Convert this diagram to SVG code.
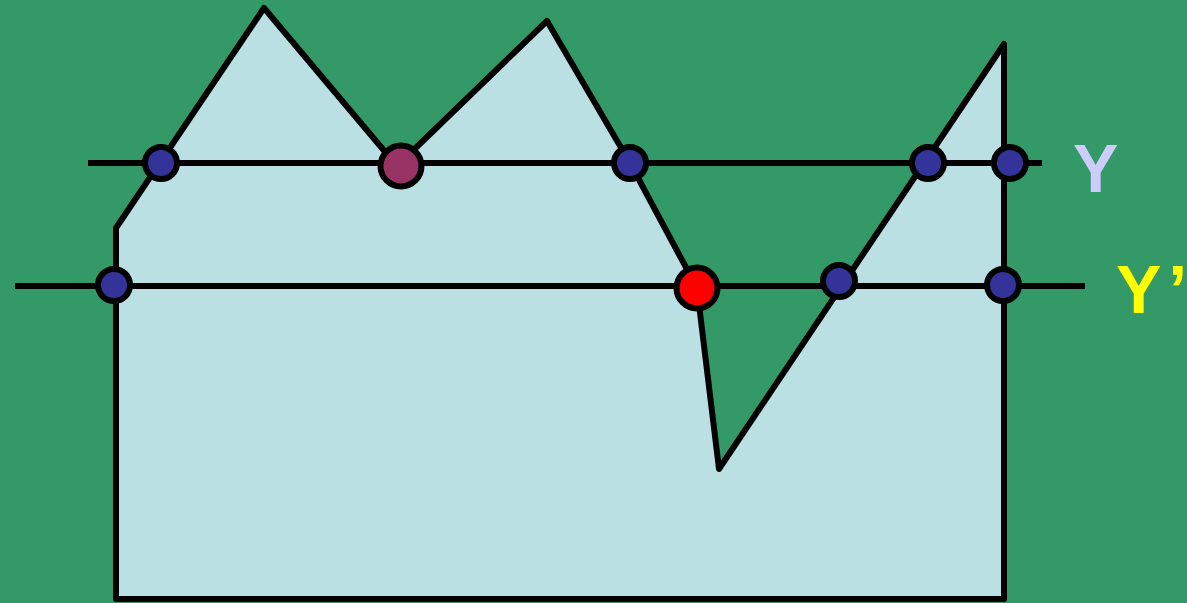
<svg xmlns="http://www.w3.org/2000/svg" width="1187" height="603" viewBox="0 0 1187 603">
<style>
.ln{stroke:#000;stroke-width:6;fill:#BBE0E3;stroke-linejoin:round;stroke-linecap:round}
.hl{stroke:#000;stroke-width:6;fill:none}
.dot{stroke:#000;stroke-width:6}
.b{fill:#333399}
.lbl{font-family:"Liberation Sans",Arial,sans-serif;font-weight:bold;font-size:68px}
</style>
<rect width="1187" height="603" fill="#339966"/>
<g id="shape">
<polygon class="ln" points="116,599 116,228 264,8 397,166 547,21 630,163 697,288 719,469 1004,44 1004,599"/>
</g>
<g id="connectors">
<line class="hl" x1="88" y1="163" x2="1042" y2="163"/>
<line class="hl" x1="15" y1="286" x2="1085" y2="286"/>
</g>
<g id="dots">
<circle class="dot b" cx="161" cy="163" r="16"/>
<circle class="dot b" cx="630" cy="163" r="16"/>
<circle class="dot b" cx="928" cy="163" r="16"/>
<circle class="dot b" cx="1010" cy="163" r="16"/>
<circle class="dot b" cx="114" cy="285" r="16"/>
<circle class="dot b" cx="839" cy="281" r="16"/>
<circle class="dot b" cx="1003" cy="285" r="16"/>
<circle class="dot" fill="#993366" cx="401" cy="166" r="20.5"/>
<circle class="dot" fill="#FF0000" cx="697" cy="288" r="20.5"/>
</g>
<g id="labels">
<text class="lbl" x="1073" y="192" fill="#CCCCFF">Y</text>
<text class="lbl" x="1116" y="313" fill="#FFFF00">Y<tspan dx="7">’</tspan></text>
</g>
</svg>
